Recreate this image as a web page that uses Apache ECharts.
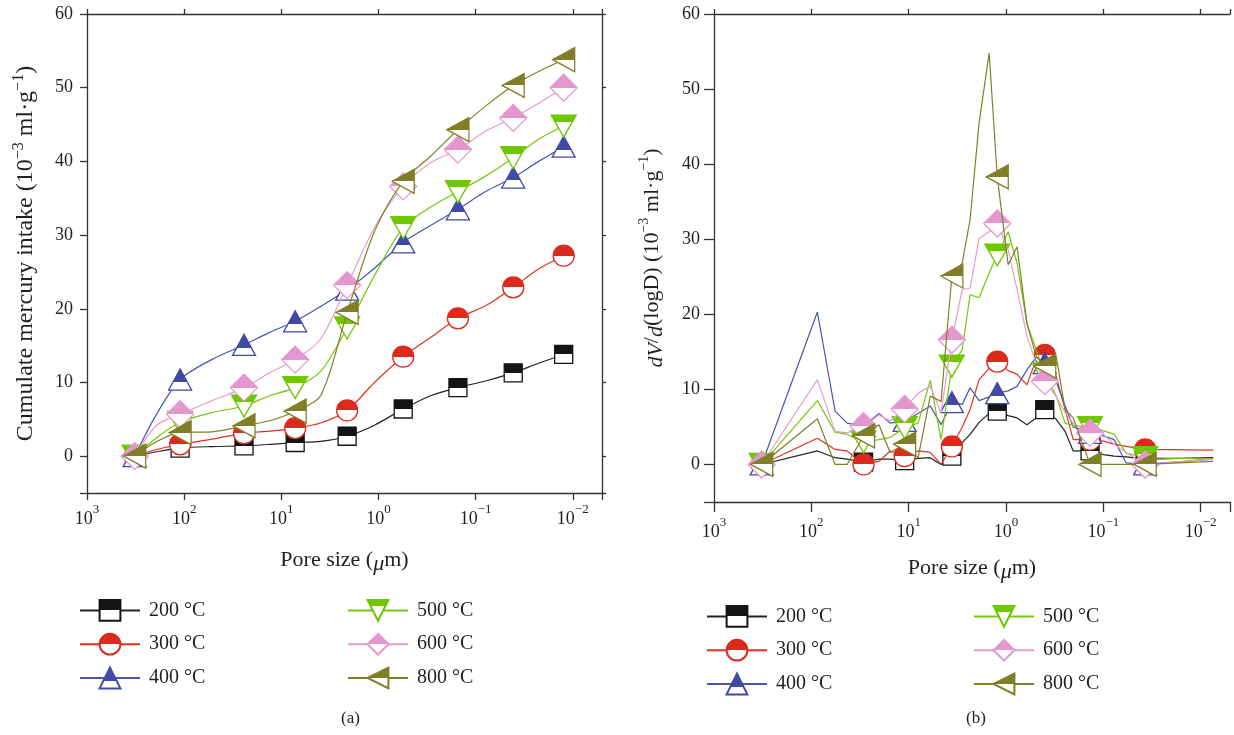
<!DOCTYPE html>
<html><head><meta charset="utf-8">
<script src="https://cdn.jsdelivr.net/npm/echarts@6/dist/echarts.min.js"></script>
<style>html,body{margin:0;padding:0;background:#fff}#c{width:1234px;height:735px}</style>
</head><body><div id="c"></div>
<script>
// ---------- data ----------
const seriesNames = ['200 °C', '300 °C', '400 °C', '500 °C', '600 °C', '800 °C'];
const xTickExp = [3, 2, 1, 0, -1, -2];
const xTickExpLabels = ['3', '2', '1', '0', '−1', '−2'];

// (a) cumulative mercury intake, pore size in µm
const poreA = [323, 192, 110, 52.1, 24.2, 13.2, 7.2, 3.94, 2.10, 1.10, 0.556, 0.291, 0.152, 0.079, 0.041, 0.0225, 0.0124];
const markA = [0, 2, 4, 6, 8, 10, 12, 14, 16];
const cum200 = [0, 0.6, 1.1, 1.3, 1.4, 1.6, 1.85, 2.0, 2.7, 4.2, 6.4, 8.2, 9.3, 10.2, 11.3, 12.6, 13.8];
const cum300 = [0, 0.9, 1.6, 2.3, 3.1, 3.4, 3.8, 4.5, 6.2, 10.0, 13.5, 16.1, 18.7, 20.4, 22.9, 25.4, 27.2];
const cum400 = [0, 5.7, 10.4, 13.1, 15.1, 16.8, 18.3, 20.3, 22.6, 25.5, 29.0, 31.3, 33.5, 35.9, 37.8, 40.0, 42.0];
const cum500 = [0, 2.5, 4.6, 5.9, 6.8, 8.2, 9.3, 11.5, 17.4, 24.5, 31.0, 33.8, 35.9, 38.0, 40.5, 43.0, 44.8];
const cum600 = [0, 4.2, 5.7, 7.5, 9.3, 11.3, 13.1, 15.9, 23.2, 31.0, 36.6, 39.8, 41.6, 44.1, 45.9, 47.9, 50.0];
const cum800 = [0, 2.0, 3.2, 3.3, 4.1, 4.8, 6.1, 8.2, 19.5, 30.5, 37.3, 40.7, 44.3, 47.5, 50.3, 52.2, 53.8];

// (b) dV/d(logD), pore size in µm
const poreB = [323.6, 86.7, 57.0, 42.9, 29.1, 20.2, 15.5, 11.0, 8.0, 6.0, 4.65, 3.6, 2.82, 2.34, 1.89, 1.49, 1.23, 0.95, 0.77, 0.61, 0.49, 0.40, 0.305, 0.247, 0.204, 0.137, 0.100, 0.0774, 0.0583, 0.0372, 0.00745];
const markB = [0, 4, 7, 11, 16, 21, 25, 29];
const dv200 = [0, 1.8, 0.9, 0.7, 0.3, 0.7, 0.7, 0.5, 0.8, 0.9, 0.0, 1.1, 2.9, 4.0, 5.6, 6.8, 7.1, 6.5, 6.2, 5.3, 6.2, 7.3, 6.0, 4.4, 1.8, 1.8, 1.3, 1.1, 1.0, 0.7, 0.9];
const dv300 = [0, 3.5, 2.0, 1.8, 0, 0.4, 1.8, 1.1, 1.8, 1.6, 0, 2.4, 5.0, 7.3, 11.3, 12.8, 13.7, 12.5, 12.0, 10.6, 14.0, 14.6, 11.7, 7.3, 3.3, 3.3, 3.1, 2.7, 2.4, 2.0, 1.9];
const dv400 = [0, 20.3, 7.1, 5.5, 5.1, 6.8, 5.5, 5.8, 6.8, 7.8, 5.3, 8.3, 8.0, 10.2, 8.5, 9.0, 9.5, 9.8, 10.4, 12.6, 14.3, 13.5, 11.0, 7.8, 5.0, 4.2, 3.8, 3.3, 0.2, 0, 0.7];
const dv500 = [0, 8.5, 4.3, 4.0, 3.0, 3.3, 3.6, 4.9, 5.5, 11.2, 3.3, 13.1, 15.3, 22.6, 22.2, 25.5, 27.9, 31.0, 26.8, 18.8, 15.3, 12.1, 9.1, 5.5, 5.2, 4.9, 4.5, 4.0, 1.5, 0.9, 0.7];
const dv600 = [0, 11.3, 4.4, 4.2, 5.1, 6.6, 5.8, 7.4, 9.5, 10.4, 6.9, 16.6, 23.3, 23.5, 30.1, 31.0, 32.1, 28.6, 23.3, 17.1, 13.5, 11.1, 9.0, 6.9, 5.5, 4.2, 4.0, 2.7, 1.6, 0, 0.7];
const dv800 = [0, 6.1, 0, 0, 3.8, 5.3, 1.6, 2.7, 0.9, 9.1, 8.4, 25.1, 26.8, 32.6, 45.5, 54.8, 38.3, 26.6, 29.0, 18.8, 14.4, 13.1, 14.4, 7.3, 6.2, 0, 0, 0, 0, 0, 0.4];

// ---------- styles ----------
const FONT = 'Liberation Serif, "Times New Roman", serif';
const TXT = '#231f20';
const AX = '#333';
const fillColors = ['#141414', '#dc2a1c', '#4049a6', '#6fc700', '#e497cf', '#807f27'];
const lineColors = ['#222222', '#e2321f', '#4a55b2', '#74c80c', '#e79bd2', '#807f27'];
const symDefs = [
  {symbol: 'rect', size: [18, 18], split: 0.5},
  {symbol: 'circle', size: [21, 21], split: 0.5},
  {symbol: 'triangle', size: [23, 21], split: 0.63},
  {symbol: 'path://M0,0L20,0L10,18Z', size: [25, 22], split: 0.32},
  {symbol: 'diamond', size: [27, 27], split: 0.5},
  {symbol: 'path://M0,10L18,0L18,20Z', size: [22, 24], split: 0.5}
];
function halfFill(c, s) {
  return {type: 'linear', x: 0, y: 0, x2: 0, y2: 1, global: false,
    colorStops: [{offset: 0, color: c}, {offset: s, color: c}, {offset: s, color: '#ffffff'}, {offset: 1, color: '#ffffff'}]};
}
function fmtExp(v) {
  const e = Math.log10(v);
  const r = Math.round(e);
  if (Math.abs(e - r) > 1e-6) return '';
  const k = xTickExp.indexOf(r);
  if (k < 0) return '';
  return '{b|10}{s|' + xTickExpLabels[k] + '}';
}
const richExp = {
  b: {fontFamily: FONT, fontSize: 18, color: TXT, lineHeight: 25, verticalAlign: 'bottom'},
  s: {fontFamily: FONT, fontSize: 13, color: TXT, lineHeight: 25, verticalAlign: 'top'}
};
function richName(fs, ss) {
  return {
    i: {fontFamily: FONT, fontSize: fs, color: TXT, fontStyle: 'italic', lineHeight: 30, verticalAlign: 'bottom'},
    s: {fontFamily: FONT, fontSize: ss, color: TXT, lineHeight: 30, verticalAlign: 'top'}
  };
}
const lineStyleAx = {color: AX, width: 1.3};

function xAxisLog(gridIndex, position, showLabel, margin, tickLen, name, nameGap) {
  return {
    type: 'log', logBase: 10, gridIndex, position, min: 0.005, max: 1000, inverse: true,
    axisLine: {show: true, onZero: false, lineStyle: lineStyleAx},
    axisTick: {show: true, inside: false, length: tickLen, lineStyle: lineStyleAx},
    minorTick: {show: false}, splitLine: {show: false},
    axisLabel: {show: showLabel, margin, formatter: fmtExp, rich: richExp, showMinLabel: true, showMaxLabel: true},
    name: name || '', nameLocation: 'middle', nameGap: nameGap || 0, nameMoveOverlap: false,
    nameTextStyle: {fontFamily: FONT, fontSize: 22, color: TXT, lineHeight: 30, rich: richName(22, 14)}
  };
}
function yAxisLin(gridIndex, position, showLabel, margin, tickLen, name, nameGap, nameSize) {
  const fs = nameSize || 22;
  return {
    type: 'value', gridIndex, position, min: -5, max: 60, splitNumber: 6,
    axisLine: {show: true, onZero: false, lineStyle: lineStyleAx},
    axisTick: {show: true, inside: false, length: tickLen, lineStyle: lineStyleAx},
    splitLine: {show: false},
    axisLabel: {show: showLabel, margin, fontFamily: FONT, fontSize: 18, color: TXT,
      formatter: v => (v % 10 === 0 ? String(v) : '')},
    name: name || '', nameLocation: 'middle', nameGap: nameGap || 0,
    nameTextStyle: {fontFamily: FONT, fontSize: fs, color: TXT, rich: richName(fs, Math.round(fs * 0.65))}
  };
}

function mkSeries(i, xs, ys, marks, axisIdx, yIdx, smooth) {
  const d = symDefs[i];
  return {
    type: 'line', name: seriesNames[i], xAxisIndex: axisIdx, yAxisIndex: yIdx,
    smooth, symbol: d.symbol, symbolSize: d.size, showAllSymbol: true,
    itemStyle: {color: halfFill(fillColors[i], d.split), borderColor: fillColors[i], borderWidth: 1.3, opacity: 1},
    lineStyle: {color: lineColors[i], width: 1.2},
    emphasis: {disabled: true},
    data: xs.map((x, k) => marks.indexOf(k) >= 0 ? {value: [x, ys[k]]} : {value: [x, ys[k]], symbol: 'none'}),
    z: 2 + i
  };
}

const cumAll = [cum200, cum300, cum400, cum500, cum600, cum800];
const dvAll = [dv200, dv300, dv400, dv500, dv600, dv800];

const series = [];
cumAll.forEach((ys, i) => series.push(mkSeries(i, poreA, ys, markA, 0, 0, 0.3)));
dvAll.forEach((ys, i) => series.push(mkSeries(i, poreB, ys, markB, 2, 2, false)));

function mkLegend(names, left, top) {
  return {
    data: names, orient: 'vertical', left, top, padding: 0, itemWidth: 60, itemHeight: 26, itemGap: 11,
    selectedMode: false,
    textStyle: {fontFamily: FONT, fontSize: 20, color: TXT, padding: [0, 0, 0, 4]}
  };
}

const option = {
  animation: false,
  backgroundColor: '#ffffff',
  grid: [
    {left: 87, top: 14, width: 515, height: 479, containLabel: false},
    {left: 714, top: 14, width: 516, height: 488, containLabel: false}
  ],
  xAxis: [
    xAxisLog(0, 'bottom', true, 10, 7, 'Pore size ({i|μ}m)', 52),
    xAxisLog(0, 'top', false, 8, 5),
    xAxisLog(1, 'bottom', true, 14, 10, 'Pore size ({i|μ}m)', 51),
    xAxisLog(1, 'top', false, 8, 5)
  ],
  yAxis: [
    yAxisLin(0, 'left', true, 14, 7, 'Cumulate mercury intake (10{s|−3} ml·g{s|−1})', 46, 24),
    yAxisLin(0, 'right', false, 8, 4),
    yAxisLin(1, 'left', true, 14, 10, '{i|dV}/{i|d}(logD) (10{s|−3} ml·g{s|−1})', 47, 22)
  ],
  legend: [
    mkLegend(seriesNames.slice(0, 3), 79, 599),
    mkLegend(seriesNames.slice(3), 347, 599),
    mkLegend(seriesNames.slice(0, 3), 706, 605),
    mkLegend(seriesNames.slice(3), 973, 605)
  ],
  title: [
    {text: '(a)', left: 341, top: 710, padding: 0, textStyle: {fontFamily: FONT, fontSize: 17, fontWeight: 'normal', color: TXT}},
    {text: '(b)', left: 966, top: 710, padding: 0, textStyle: {fontFamily: FONT, fontSize: 17, fontWeight: 'normal', color: TXT}}
  ],
  series
};
const chart = echarts.init(document.getElementById('c'), null, {renderer: 'canvas'});
chart.setOption(option);
</script>
</body></html>
